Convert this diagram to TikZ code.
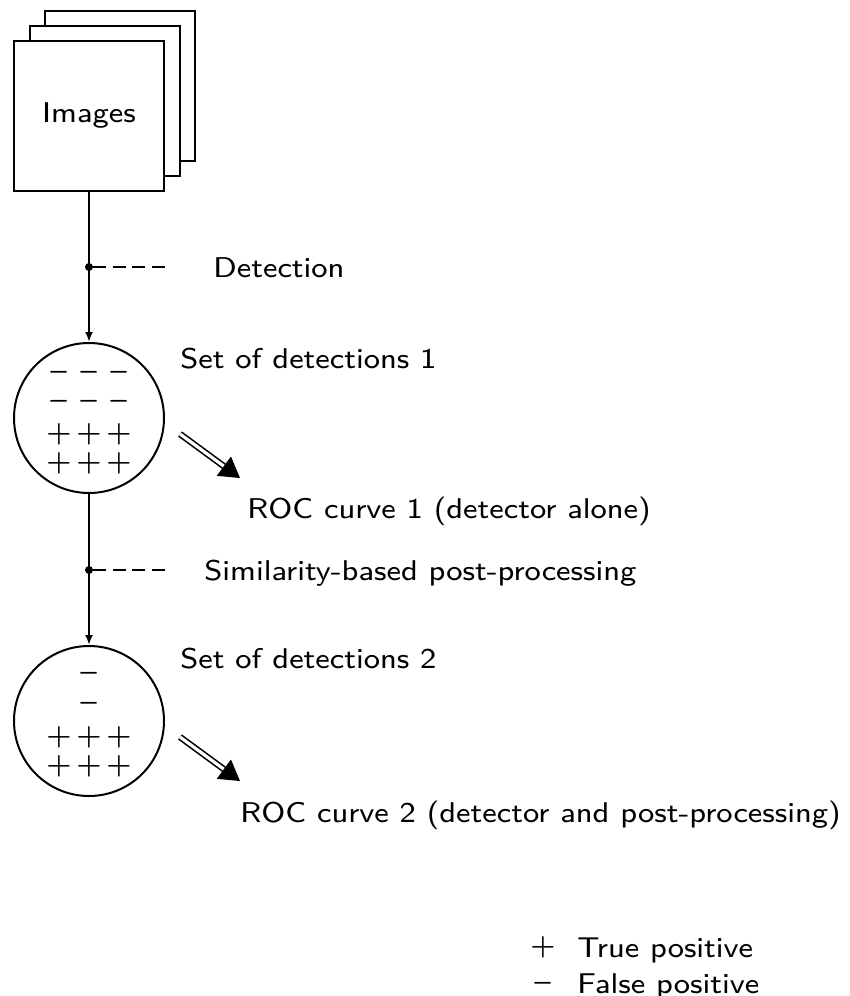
\documentclass[tikz,border=0pt]{standalone}
\usepackage{fontspec}
\newfontfamily\lmseight{lmsans8-regular.otf}[FakeStretch=1.07]
\usetikzlibrary{arrows.meta,calc}
\newcommand{\narrowminus}{\scalebox{0.82}[1]{$-$}}
\begin{document}
\begin{tikzpicture}[x=0.5pt,y=-0.5pt,
  every node/.style={font=\lmseight\fontsize{14.3}{17}\selectfont},
  sheet/.style={draw,line width=1pt,fill=white,minimum width=75pt,minimum height=75pt,inner sep=0pt},
  setc/.style={draw,circle,line width=1pt,minimum size=75pt,inner sep=0pt},
  conn/.style={line width=1pt,-{Latex[length=5pt,width=4pt]}},
  dsh/.style={line width=1pt,dash pattern=on 6.5pt off 3.3pt},
  lbl/.style={anchor=base west,inner sep=0pt},
  sgn/.style={inner sep=0pt,font=\fontsize{15}{17}\selectfont\boldmath},
  dbl/.style={double,line width=0.8pt,double distance=1.6pt}]
\useasboundingbox (0,0) rectangle (850,996);
% image stack
\node[sheet] (img3) at (119.5,86) {};
\node[sheet] (img2) at (104.5,101) {};
\node[sheet] (img) at (89,116) {Images};
% sets
\node[setc] (c1) at (89,418) {};
\node[setc] (c2) at (89,721) {};
% connectors
\draw[conn] (img.south) -- (c1.north);
\draw[conn] (c1.south) -- (c2.north);
% detection dots and dashed lines
\coordinate (d1) at (89,267);
\coordinate (d1e) at (165,267);
\fill (d1) circle (2pt);
\draw[dsh] (d1) ++(4,0) -- (d1e);
\node[lbl] (det) at (213,277) {Detection};
\coordinate (d2) at (89,570);
\coordinate (d2e) at (165,570);
\fill (d2) circle (2pt);
\draw[dsh] (d2) ++(4,0) -- (d2e);
\node[lbl] (sim) at (204,580) {Similarity-based post-processing};
% labels
\node[lbl] (s1) at (180,368) {Set of detections 1};
\node[lbl] (s2) at (180,668) {Set of detections 2};
\node[lbl] (roc1) at (247,518) {ROC curve 1 (detector alone)};
\node[lbl] (roc2) at (240,822) {ROC curve 2 (detector and post-processing)};
% signs in set 1
\foreach \x [count=\i] in {59,89,119}{
  \node[sgn] (a1\i) at (\x,372) {\narrowminus};
  \node[sgn] (a2\i) at (\x,401) {\narrowminus};
  \node[sgn] (a3\i) at (\x,434) {$+$};
  \node[sgn] (a4\i) at (\x,463) {$+$};
}
% signs in set 2
\node[sgn] (b1) at (89,673) {\narrowminus};
\node[sgn] (b2) at (89,703) {\narrowminus};
\foreach \x [count=\i] in {59,89,119}{
  \node[sgn] (b3\i) at (\x,737) {$+$};
  \node[sgn] (b4\i) at (\x,766) {$+$};
}
% ROC arrows
\coordinate (r1s) at (180,434);
\coordinate (r1e) at (240,478);
\coordinate (r1b) at ($(r1e)!10pt!(r1s)$);
\draw[dbl] (r1s) -- ($(r1e)!8pt!(r1s)$);
\fill (r1e) -- ($(r1b)!6pt!90:(r1e)$) -- ($(r1b)!6pt!-90:(r1e)$) -- cycle;
\coordinate (r2s) at (180,737);
\coordinate (r2e) at (240,781);
\coordinate (r2b) at ($(r2e)!10pt!(r2s)$);
\draw[dbl] (r2s) -- ($(r2e)!8pt!(r2s)$);
\fill (r2e) -- ($(r2b)!6pt!90:(r2e)$) -- ($(r2b)!6pt!-90:(r2e)$) -- cycle;
% legend
\node[sgn] (lp) at (543,947) {$+$};
\node[lbl] (ltp) at (577,957) {True positive};
\node[sgn] (lm) at (543,983) {\narrowminus};
\node[lbl] (lfp) at (577,993) {False positive};
\end{tikzpicture}
\end{document}
